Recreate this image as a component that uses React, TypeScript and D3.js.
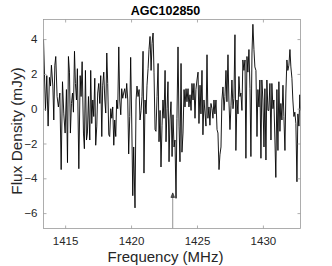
import React, { useEffect, useRef } from "react";
import * as d3 from "d3";

// spectrum channels
const freqMHz = [
  1413.36, 1413.51, 1413.61, 1413.71, 1413.81, 1413.89, 1413.96, 1414.07, 1414.14, 1414.22,
  1414.29, 1414.39, 1414.49, 1414.6, 1414.7, 1414.8, 1414.9, 1415.0, 1415.1, 1415.18,
  1415.25, 1415.33, 1415.4, 1415.48, 1415.56, 1415.63, 1415.71, 1415.78, 1415.86, 1415.93,
  1416.04, 1416.14, 1416.21, 1416.29, 1416.39, 1416.46, 1416.54, 1416.62, 1416.69, 1416.77,
  1416.87, 1416.94, 1417.02, 1417.1, 1417.17, 1417.25, 1417.32, 1417.4, 1417.47, 1417.55,
  1417.63, 1417.7, 1417.78, 1417.85, 1417.93, 1418.01, 1418.08, 1418.16, 1418.23, 1418.31,
  1418.38, 1418.46, 1418.54, 1418.61, 1418.69, 1418.76, 1418.84, 1418.91, 1418.99, 1419.07,
  1419.14, 1419.22, 1419.29, 1419.37, 1419.44, 1419.52, 1419.6, 1419.67, 1419.75, 1419.82,
  1419.9, 1419.97, 1420.05, 1420.13, 1420.2, 1420.3, 1420.38, 1420.45, 1420.53, 1420.61,
  1420.68, 1420.76, 1420.83, 1420.91, 1420.98, 1421.06, 1421.14, 1421.21, 1421.29, 1421.36,
  1421.44, 1421.52, 1421.59, 1421.67, 1421.74, 1421.82, 1421.89, 1421.97, 1422.05, 1422.12,
  1422.2, 1422.27, 1422.35, 1422.42, 1422.5, 1422.58, 1422.65, 1422.73, 1422.8, 1422.88,
  1422.95, 1423.03, 1423.11, 1423.18, 1423.26, 1423.33, 1423.41, 1423.48, 1423.56, 1423.64,
  1423.71, 1423.79, 1423.86, 1423.94, 1424.02, 1424.09, 1424.17, 1424.24, 1424.32, 1424.39,
  1424.47, 1424.55, 1424.62, 1424.7, 1424.77, 1424.85, 1424.92, 1425.0, 1425.08, 1425.15,
  1425.23, 1425.3, 1425.38, 1425.45, 1425.53, 1425.61, 1425.68, 1425.76, 1425.83, 1425.91,
  1425.98, 1426.06, 1426.14, 1426.21, 1426.29, 1426.36, 1426.44, 1426.52, 1426.59, 1426.67,
  1426.74, 1426.82, 1426.89, 1426.97, 1427.05, 1427.12, 1427.2, 1427.27, 1427.35, 1427.42,
  1427.5, 1427.58, 1427.65, 1427.73, 1427.8, 1427.88, 1427.95, 1428.03, 1428.11, 1428.18,
  1428.26, 1428.33, 1428.41, 1428.48, 1428.56, 1428.64, 1428.71, 1428.79, 1428.86, 1428.94,
  1429.02, 1429.09, 1429.17, 1429.24, 1429.32, 1429.39, 1429.47, 1429.55, 1429.62, 1429.7,
  1429.77, 1429.85, 1429.92, 1430.0, 1430.08, 1430.15, 1430.23, 1430.3, 1430.38, 1430.45,
  1430.53, 1430.61, 1430.68, 1430.76, 1430.83, 1430.91, 1430.98, 1431.06, 1431.14, 1431.21,
  1431.29, 1431.36, 1431.44, 1431.52, 1431.59, 1431.67, 1431.74, 1431.82, 1431.89, 1431.97,
  1432.05, 1432.12, 1432.2, 1432.27, 1432.35, 1432.42, 1432.5, 1432.58, 1432.65, 1432.73,
  1432.8, 1432.85,
];

const fluxMJy = [
  4.0, -0.1, 1.9, -1.0, 1.8, 1.3, 2.5, 1.3, -0.65, 2.5,
  3.0, 0.7, 0.1, 0.9, -3.5, 1.55, -0.3, -1.4, 1.1, -3.1,
  3.0, 2.1, -1.4, 0.3, 0.9, -0.2, 3.3, 1.45, 0.5, 2.3,
  -3.45, 1.9, 0.7, 2.7, -1.4, -2.3, 2.2, -1.8, -1.4, 0.7,
  -1.8, 2.2, -0.85, 0.5, -0.45, 1.75, -2.1, -1.0, 0.9, 1.45,
  0.3, 1.9, -1.6, 1.35, 2.1, 0.5, -0.25, 3.2, 1.45, -1.5,
  -1.6, 0.0, -0.55, 0.1, -2.1, -0.65, -1.6, 0.5, 0.0, 3.55,
  0.5, -0.35, 1.15, 0.6, 0.9, 1.15, 0.6, 1.45, 0.5, -2.6,
  -0.45, 2.95, -0.65, -5.0, -2.2, -5.7, 0.5, 1.3, 0.7, 1.1,
  -0.65, -0.1, 0.7, 3.3, -3.7, 0.5, -0.3, 1.35, 2.3, 3.4,
  4.15, 2.2, 3.75, 4.35, 2.1, -1.2, -1.3, 0.7, 2.6, -1.9,
  -0.1, -3.35, -0.95, 0.5, -0.55, 2.2, -1.9, 0.0, 1.55, -3.05,
  -0.65, 0.4, -2.75, -0.35, -2.2, -1.8, -5.15, -0.55, 3.55, -1.0,
  -3.05, 2.6, -2.5, -1.4, 1.1, 0.1, 1.15, 0.4, 1.15, 0.1,
  0.8, -0.1, 1.45, 0.5, 1.45, -0.55, 1.1, 1.65, 2.1, -0.85,
  1.35, -0.3, 2.2, -1.5, 0.5, -0.25, -1.0, 3.1, -0.55, 0.1,
  -0.95, 0.3, 0.0, -0.55, 0.5, -0.3, 0.5, -1.2, -1.4, -3.5,
  -2.65, -2.2, 0.5, 1.25, -0.1, 0.7, 2.2, 0.4, 3.1, 0.5,
  -1.2, 0.2, 1.65, 0.0, 0.6, 4.25, -2.4, 0.5, -0.3, 1.85,
  0.7, 0.9, -0.1, 2.8, 2.2, 2.8, -2.85, 3.0, 2.1, 3.4,
  1.15, -2.75, 3.2, 4.85, 3.4, 2.4, 2.2, -1.6, 1.1, 0.1,
  1.65, -2.85, 1.65, 0.5, -2.2, 1.15, -2.95, 1.65, -0.1, -0.1,
  1.45, -1.8, 1.45, 0.0, 0.5, -1.8, -3.95, 1.1, -2.4, 1.55,
  -1.3, 0.3, -0.65, 1.35, -0.45, -2.4, 0.9, 2.8, 2.2, 2.5,
  3.4, 2.4, 1.75, 0.5, -0.45, -0.2, -0.85, -4.2, -0.3, -1.0,
  0.8, -0.1,
];

const xTicks = [1415, 1420, 1425, 1430];
const yTicks = [-6, -4, -2, 0, 2, 4];

// marker drawn up from the bottom axis
const markerFreq = 1423.16;
const markerFlux = -4.84;

const titleText = "AGC102850";
const xLabel = "Frequency (MHz)";
const yLabel = "Flux Density (mJy)";

const W = 332;
const H = 266;
const box = { left: 43.5, right: 300.5, top: 19.5, bottom: 228.5 };
const font = "'Liberation Sans', Arial, Helvetica, sans-serif";
const axisColor = "#9a9a9a";
const labelColor = "#262626";

export default function App() {
  const ref = useRef<SVGSVGElement | null>(null);

  useEffect(() => {
    const svg = d3.select(ref.current);
    svg.selectAll("*").remove();

    const x = d3
      .scaleLinear()
      .domain([1413.36, 1432.85])
      .range([box.left, box.right]);
    const y = d3
      .scaleLinear()
      .domain([-6.885, 5.126])
      .range([box.bottom, box.top]);

    const data = freqMHz.map((f, i) => ({ f, v: fluxMJy[i] }));

    // spectrum
    const line = d3
      .line<{ f: number; v: number }>()
      .x((d) => x(d.f))
      .y((d) => y(d.v));

    svg
      .append("path")
      .datum(data)
      .attr("d", line)
      .attr("fill", "none")
      .attr("stroke", "#000")
      .attr("stroke-width", 0.9)
      .attr("stroke-linejoin", "miter");

    // marker line with arrow head
    const mx = x(markerFreq);
    const my = y(markerFlux);
    svg
      .append("line")
      .attr("x1", mx)
      .attr("x2", mx)
      .attr("y1", box.bottom)
      .attr("y2", my)
      .attr("stroke", "#777")
      .attr("stroke-width", 0.8);
    svg
      .append("path")
      .attr("d", `M${mx - 1.8},${my + 4.5} L${mx},${my} L${mx + 1.8},${my + 4.5} Z`)
      .attr("fill", "#555")
      .attr("stroke", "#222")
      .attr("stroke-width", 0.7);

    // axes, MATLAB style: ticks pointing inward on all four sides
    const styleAxis = (g: d3.Selection<SVGGElement, unknown, null, undefined>) => {
      g.select(".domain").remove();
      g.selectAll(".tick line").attr("stroke", axisColor).attr("stroke-width", 0.8);
      g.selectAll(".tick text")
        .attr("fill", labelColor)
        .style("font-family", font)
        .style("font-size", "11.5px");
    };

    svg
      .append("g")
      .attr("transform", `translate(0,${box.bottom})`)
      .call(d3.axisBottom(x).tickValues(xTicks).tickSize(-3).tickPadding(8.5).tickFormat(d3.format("d")))
      .call(styleAxis);
    svg
      .append("g")
      .attr("transform", `translate(0,${box.top})`)
      .call(d3.axisTop(x).tickValues(xTicks).tickSize(-3).tickFormat(() => ""))
      .call(styleAxis);
    svg
      .append("g")
      .attr("transform", `translate(${box.left},0)`)
      .call(d3.axisLeft(y).tickValues(yTicks).tickSize(-3).tickPadding(6).tickFormat(d3.format("d")))
      .call(styleAxis);
    svg
      .append("g")
      .attr("transform", `translate(${box.right},0)`)
      .call(d3.axisRight(y).tickValues(yTicks).tickSize(-3).tickFormat(() => ""))
      .call(styleAxis);

    svg
      .append("rect")
      .attr("x", box.left)
      .attr("y", box.top)
      .attr("width", box.right - box.left)
      .attr("height", box.bottom - box.top)
      .attr("fill", "none")
      .attr("stroke", axisColor)
      .attr("stroke-width", 0.8);

    // title and axis labels
    svg
      .append("text")
      .attr("x", 165.5)
      .attr("y", 14.5)
      .attr("text-anchor", "middle")
      .style("font-family", font)
      .style("font-size", "12.5px")
      .style("font-weight", "bold")
      .attr("fill", "#000")
      .text(titleText);

    svg
      .append("text")
      .attr("x", 165.5)
      .attr("y", 261.5)
      .attr("text-anchor", "middle")
      .style("font-family", font)
      .style("font-size", "15px")
      .attr("fill", labelColor)
      .text(xLabel);

    svg
      .append("text")
      .attr("transform", `translate(22,131) rotate(-90)`)
      .attr("text-anchor", "middle")
      .style("font-family", font)
      .style("font-size", "15.4px")
      .attr("fill", labelColor)
      .text(yLabel);
  }, []);

  return (
    <svg
      ref={ref}
      width={W}
      height={H}
      style={{ position: "absolute", left: 0, top: 0, background: "#fff" }}
    />
  );
}
